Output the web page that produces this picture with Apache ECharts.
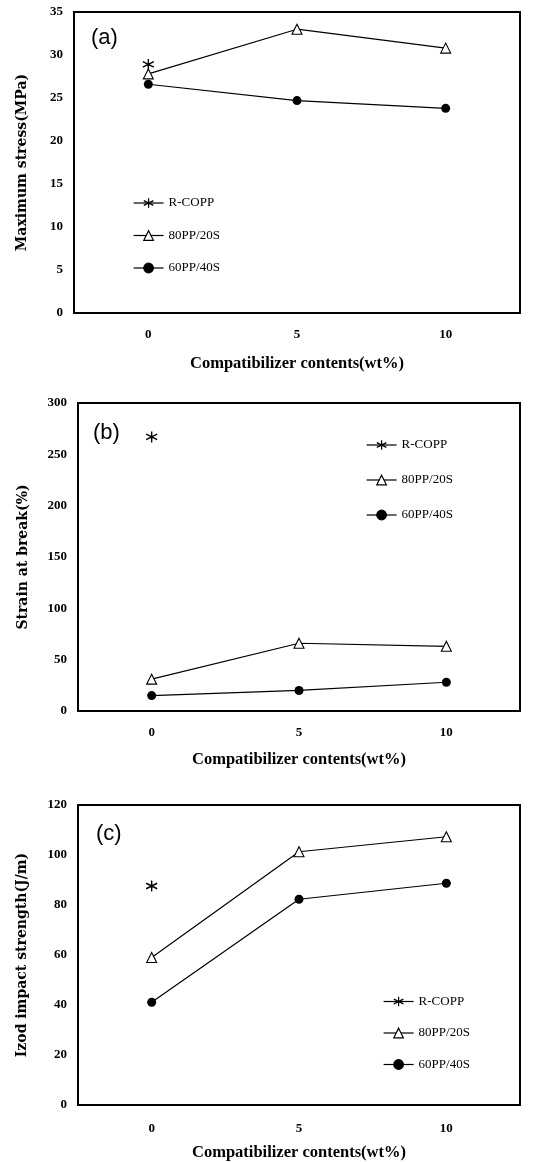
<!DOCTYPE html>
<html>
<head>
<meta charset="utf-8">
<script src="https://cdn.jsdelivr.net/npm/echarts@6/dist/echarts.min.js"></script>
<style>
  html, body { margin: 0; padding: 0; background: #fff; }
  #chart { width: 535px; height: 1162px; }
</style>
</head>
<body>
<div id="chart"></div>
<script>
// compatibilizer content (wt%)
var categories = ['0', '5', '10'];
var seriesNames = ['R-COPP', '80PP/20S', '60PP/40S'];

// (a) maximum stress, MPa
var stressRCOPP = [28.9, null, null];
var stress80 = [27.8, 33.0, 30.8];
var stress60 = [26.6, 24.7, 23.8];

// (b) strain at break, %
var strainRCOPP = [267, null, null];
var strain80 = [31, 66, 63];
var strain60 = [15, 20, 28];

// (c) izod impact strength, J/m
var izodRCOPP = [87.6, null, null];
var izod80 = [59, 101.3, 107.3];
var izod60 = [41.1, 82.3, 88.7];

var serif = "'Liberation Serif', 'Times New Roman', serif";
var wideSerif = "'DejaVu Serif', serif";
var asterisk = 'path://M0,-10L0,10M-8.66,-5L8.66,5M-8.66,5L8.66,-5';

function xAxisFor(idx, margin, gap) {
    return {
        type: 'category', gridIndex: idx, data: categories, boundaryGap: true,
        name: 'Compatibilizer contents(wt%)', nameLocation: 'middle', nameGap: gap,
        nameTextStyle: {fontFamily: serif, fontWeight: 'bold', fontSize: 16.5, color: '#000'},
        axisLine: {lineStyle: {color: '#000', width: 2}},
        axisTick: {show: false},
        axisLabel: {margin: margin, fontFamily: serif, fontWeight: 'bold', fontSize: 13, color: '#000'},
        splitLine: {show: false}
    };
}

function yAxisFor(idx, name, max, step, gap) {
    return {
        type: 'value', gridIndex: idx, min: 0, max: max, interval: step,
        name: name, nameLocation: 'middle', nameGap: gap, nameRotate: 90,
        nameTextStyle: {fontFamily: wideSerif, fontWeight: 'bold', fontSize: 14, color: '#000'},
        axisLine: {show: true, lineStyle: {color: '#000', width: 2}},
        axisTick: {show: false},
        axisLabel: {margin: 11, fontFamily: serif, fontWeight: 'bold', fontSize: 13, color: '#000'},
        splitLine: {show: false}
    };
}

function threeSeries(idx, rcopp, s80, s60) {
    var base = {type: 'line', xAxisIndex: idx, yAxisIndex: idx, lineStyle: {color: '#000', width: 1.2},
        emphasis: {disabled: true}, z: 3};
    return [
        Object.assign({}, base, {name: seriesNames[0], data: rcopp, symbol: asterisk, symbolSize: 11,
            itemStyle: {color: 'transparent', borderColor: '#000', borderWidth: 1.4}}),
        Object.assign({}, base, {name: seriesNames[1], data: s80, symbol: 'triangle', symbolSize: 10,
            itemStyle: {color: '#fff', borderColor: '#000', borderWidth: 1.1}}),
        Object.assign({}, base, {name: seriesNames[2], data: s60, symbol: 'circle', symbolSize: 9,
            itemStyle: {color: '#000', borderColor: '#000', borderWidth: 0}})
    ];
}

function legendAt(left, top, gap) {
    return {
        orient: 'vertical', left: left, top: top, itemGap: gap, itemWidth: 30, itemHeight: 12,
        padding: 0, data: seriesNames, selectedMode: false,
        lineStyle: {width: 1.2, color: '#000'},
        itemStyle: {borderWidth: 1.2, borderColor: '#000'},
        textStyle: {fontFamily: serif, fontSize: 13, color: '#000'}
    };
}

function panelLabel(text, left, top) {
    return {text: text, left: left, top: top, padding: 0,
        textStyle: {fontFamily: "'Liberation Sans', Arial, sans-serif", fontWeight: 'normal', fontSize: 22, color: '#000'}};
}

var chart = echarts.init(document.getElementById('chart'));
var option = {
    animation: false,
    backgroundColor: '#fff',
    title: [panelLabel('(a)', 91, 27), panelLabel('(b)', 93, 422), panelLabel('(c)', 96, 823)],
    grid: [
        {left: 74, top: 12, right: 15, height: 301, show: true, borderColor: '#000', borderWidth: 2},
        {left: 78, top: 403, right: 15, height: 308, show: true, borderColor: '#000', borderWidth: 2},
        {left: 78, top: 805, right: 15, height: 300, show: true, borderColor: '#000', borderWidth: 2}
    ],
    xAxis: [xAxisFor(0, 15, 42), xAxisFor(1, 15, 40), xAxisFor(2, 17, 39)],
    yAxis: [
        yAxisFor(0, 'Maximum stress(MPa)', 35, 5, 45),
        yAxisFor(1, 'Strain at break(%)', 300, 50, 48),
        yAxisFor(2, 'Izod impact strength(J/m)', 120, 20, 49)
    ],
    legend: [legendAt(133, 196.5, 19.5), legendAt(366, 438.5, 22), legendAt(383, 995, 18.5)],
    series: []
        .concat(threeSeries(0, stressRCOPP, stress80, stress60))
        .concat(threeSeries(1, strainRCOPP, strain80, strain60))
        .concat(threeSeries(2, izodRCOPP, izod80, izod60))
};
chart.setOption(option);
</script>
</body>
</html>
